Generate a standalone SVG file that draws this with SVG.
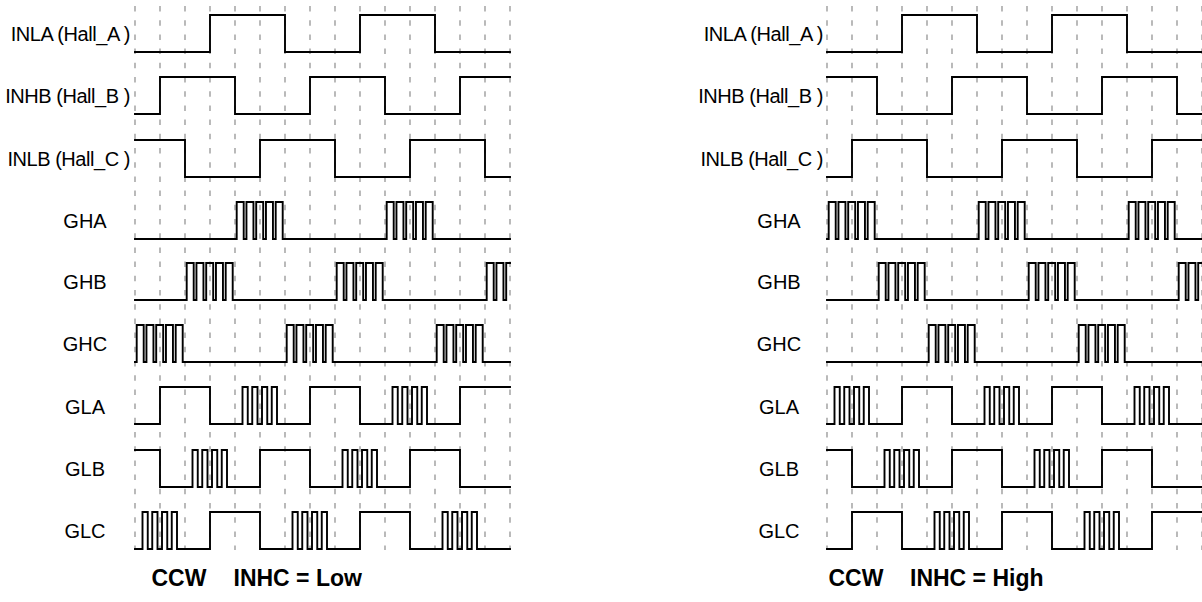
<svg xmlns="http://www.w3.org/2000/svg" width="1202" height="602" viewBox="0 0 1202 602">
<style>
.bg{fill:#fff}
.grid{fill:none;stroke:#8c8c8c;stroke-width:1.2;stroke-dasharray:5.5 8.7}
.sig{fill:none;stroke:#000;stroke-width:1.9;stroke-linejoin:miter;stroke-linecap:square}
.lbl{font-family:"Liberation Sans",Arial,sans-serif;font-size:20px;fill:#000}
.r{text-anchor:end;letter-spacing:-0.45px}
.m{text-anchor:middle}
.cap{font-family:"Liberation Sans",Arial,sans-serif;font-size:23px;font-weight:bold;fill:#000}
</style>
<rect class="bg" x="0" y="0" width="1202" height="602"/>
<defs>
<path id="grid" class="grid" d="M135,6V550M160,6V550M185,6V550M210,6V550M235,6V550M260,6V550M285,6V550M310,6V550M335,6V550M360,6V550M385,6V550M410,6V550M435,6V550M460,6V550M485,6V550M510,6V550"/>
</defs>

<g id="panel-low">
<use href="#grid"/>
<g id="L-INLA"><text class="lbl r" x="130" y="40.5">INLA (Hall_A )</text><path class="sig" d="M135,52H210V15H285V52H360V15H435V52H510"/></g>
<g id="L-INHB"><text class="lbl r" x="130" y="102.5">INHB (Hall_B )</text><path class="sig" d="M135,114H160V77H235V114H310V77H385V114H460V77H510"/></g>
<g id="L-INLB"><text class="lbl r" x="130" y="165.5">INLB (Hall_C )</text><path class="sig" d="M135,140H185V177H260V140H335V177H410V140H485V177H510"/></g>
<g id="L-GHA"><text class="lbl m" x="85" y="227.5">GHA</text><path class="sig" d="M135,239H235h1.7v-37h7v37h2.75v-37h7v37h2.75v-37h7v37h2.75v-37h7v37h2.75v-37h7v37H385h1.7v-37h7v37h2.75v-37h7v37h2.75v-37h7v37h2.75v-37h7v37h2.75v-37h7v37H510"/></g>
<g id="L-GHB"><text class="lbl m" x="85" y="289">GHB</text><path class="sig" d="M135,300H185h1.7v-37h7v37h2.75v-37h7v37h2.75v-37h7v37h2.75v-37h7v37h2.75v-37h7v37H335h1.7v-37h7v37h2.75v-37h7v37h2.75v-37h7v37h2.75v-37h7v37h2.75v-37h7v37H485h1.7v-37h7v37h2.75v-37h7v37h2.75v-37H510"/></g>
<g id="L-GHC"><text class="lbl m" x="85" y="351">GHC</text><path class="sig" d="M135,362h1.7v-37h7v37h2.75v-37h7v37h2.75v-37h7v37h2.75v-37h7v37h2.75v-37h7v37H285h1.7v-37h7v37h2.75v-37h7v37h2.75v-37h7v37h2.75v-37h7v37h2.75v-37h7v37H435h1.7v-37h7v37h2.75v-37h7v37h2.75v-37h7v37h2.75v-37h7v37h2.75v-37h7v37H510"/></g>
<g id="L-GLA"><text class="lbl m" x="85" y="413.5">GLA</text><path class="sig" d="M135,424H160V387H210V424H235h7.5v-37h5.25v37h4.5v-37h5.25v37h4.5v-37h5.25v37h4.5v-37h5.25v37H310V387H360V424H385h7.5v-37h5.25v37h4.5v-37h5.25v37h4.5v-37h5.25v37h4.5v-37h5.25v37H460V387H510"/></g>
<g id="L-GLB"><text class="lbl m" x="85" y="476">GLB</text><path class="sig" d="M135,450H160V487H185h7.5v-37h5.25v37h4.5v-37h5.25v37h4.5v-37h5.25v37h4.5v-37h5.25v37H260V450H310V487H335h7.5v-37h5.25v37h4.5v-37h5.25v37h4.5v-37h5.25v37h4.5v-37h5.25v37H410V450H460V487H510"/></g>
<g id="L-GLC"><text class="lbl m" x="85" y="538">GLC</text><path class="sig" d="M135,549h7.5v-37h5.25v37h4.5v-37h5.25v37h4.5v-37h5.25v37h4.5v-37h5.25v37H210V512H260V549H285h7.5v-37h5.25v37h4.5v-37h5.25v37h4.5v-37h5.25v37h4.5v-37h5.25v37H360V512H410V549H435h7.5v-37h5.25v37h4.5v-37h5.25v37h4.5v-37h5.25v37h4.5v-37h5.25v37H510"/></g>
<text id="L-caption" class="cap" y="586"><tspan x="151.5">CCW</tspan><tspan x="233.5">INHC = Low</tspan></text>
</g>

<g id="panel-high" transform="translate(692,0)">
<use href="#grid"/>
<g id="R-INLA"><text class="lbl r" x="131" y="40.5">INLA (Hall_A )</text><path class="sig" d="M135,52H210V15H285V52H360V15H435V52H510"/></g>
<g id="R-INHB"><text class="lbl r" x="131" y="102.5">INHB (Hall_B )</text><path class="sig" d="M135,77H185V114H260V77H335V114H410V77H485V114H510"/></g>
<g id="R-INLB"><text class="lbl r" x="131" y="165.5">INLB (Hall_C )</text><path class="sig" d="M135,177H160V140H235V177H310V140H385V177H460V140H510"/></g>
<g id="R-GHA"><text class="lbl m" x="87" y="227.5">GHA</text><path class="sig" d="M135,239h1.7v-37h7v37h2.75v-37h7v37h2.75v-37h7v37h2.75v-37h7v37h2.75v-37h7v37H285h1.7v-37h7v37h2.75v-37h7v37h2.75v-37h7v37h2.75v-37h7v37h2.75v-37h7v37H435h1.7v-37h7v37h2.75v-37h7v37h2.75v-37h7v37h2.75v-37h7v37h2.75v-37h7v37H510"/></g>
<g id="R-GHB"><text class="lbl m" x="87" y="289">GHB</text><path class="sig" d="M135,300H185h1.7v-37h7v37h2.75v-37h7v37h2.75v-37h7v37h2.75v-37h7v37h2.75v-37h7v37H335h1.7v-37h7v37h2.75v-37h7v37h2.75v-37h7v37h2.75v-37h7v37h2.75v-37h7v37H485h1.7v-37h7v37h2.75v-37h7v37h2.75v-37H510"/></g>
<g id="R-GHC"><text class="lbl m" x="87" y="351">GHC</text><path class="sig" d="M135,362H235h1.7v-37h7v37h2.75v-37h7v37h2.75v-37h7v37h2.75v-37h7v37h2.75v-37h7v37H385h1.7v-37h7v37h2.75v-37h7v37h2.75v-37h7v37h2.75v-37h7v37h2.75v-37h7v37H510"/></g>
<g id="R-GLA"><text class="lbl m" x="87" y="413.5">GLA</text><path class="sig" d="M135,424h7.5v-37h5.25v37h4.5v-37h5.25v37h4.5v-37h5.25v37h4.5v-37h5.25v37H210V387H260V424H285h7.5v-37h5.25v37h4.5v-37h5.25v37h4.5v-37h5.25v37h4.5v-37h5.25v37H360V387H410V424H435h7.5v-37h5.25v37h4.5v-37h5.25v37h4.5v-37h5.25v37h4.5v-37h5.25v37H510"/></g>
<g id="R-GLB"><text class="lbl m" x="87" y="476">GLB</text><path class="sig" d="M135,450H160V487H185h7.5v-37h5.25v37h4.5v-37h5.25v37h4.5v-37h5.25v37h4.5v-37h5.25v37H260V450H310V487H335h7.5v-37h5.25v37h4.5v-37h5.25v37h4.5v-37h5.25v37h4.5v-37h5.25v37H410V450H460V487H510"/></g>
<g id="R-GLC"><text class="lbl m" x="87" y="538">GLC</text><path class="sig" d="M135,549H160V512H210V549H235h7.5v-37h5.25v37h4.5v-37h5.25v37h4.5v-37h5.25v37h4.5v-37h5.25v37H310V512H360V549H385h7.5v-37h5.25v37h4.5v-37h5.25v37h4.5v-37h5.25v37h4.5v-37h5.25v37H460V512H510"/></g>
<text id="R-caption" class="cap" y="586"><tspan x="136.5">CCW</tspan><tspan x="218">INHC = High</tspan></text>
</g>
</svg>
